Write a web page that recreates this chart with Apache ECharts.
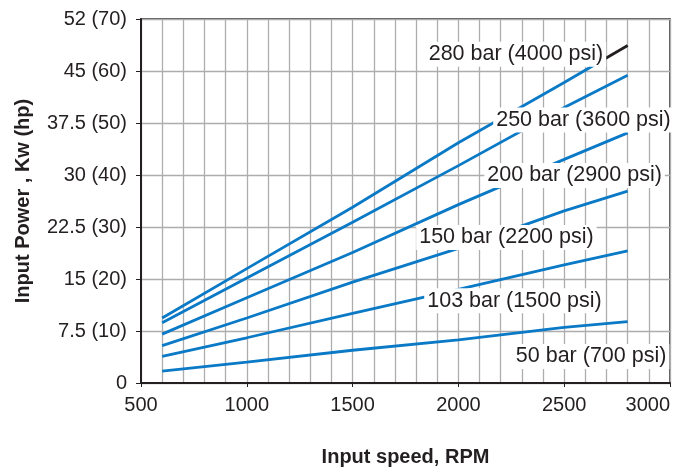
<!DOCTYPE html>
<html>
<head>
<meta charset="utf-8">
<script src="https://cdn.jsdelivr.net/npm/echarts@6/dist/echarts.min.js"></script>
<style>
html,body{margin:0;padding:0;background:#fff;}
#chart{width:676px;height:472px;}
</style>
</head>
<body>
<div id="chart"></div>
<script>
// Input speed (RPM) sample points
const rpm = [600, 1000, 1500, 2000, 2500, 2800];
// Input power in hp for each pressure curve
const p280 = [12.5, 22.0, 33.8, 46.2, 57.8, 64.9];
const p250 = [11.6, 20.2, 30.9, 41.8, 53.0, 59.2];
const p200 = [9.4, 16.4, 25.1, 34.3, 43.0, 48.1];
const p150 = [7.2, 12.5, 19.4, 25.9, 33.1, 36.9];
const p103 = [5.1, 8.7, 13.4, 18.0, 22.7, 25.4];
const p50  = [2.3, 4.0, 6.3, 8.3, 10.7, 11.8];
const curveNames = ['280 bar (4000 psi)', '250 bar (3600 psi)', '200 bar (2900 psi)',
                    '150 bar (2200 psi)', '103 bar (1500 psi)', '50 bar (700 psi)'];
// Y tick labels: kW (hp)
const yTickLabels = ['0', '7.5 (10)', '15 (20)', '22.5 (30)', '30 (40)', '37.5 (50)', '45 (60)', '52 (70)'];
const xTickLabels = ['500', '1000', '1500', '2000', '2500', '3000'];

// label anchor positions (RPM, hp) - layout only
const labelPos = [[2272, 63.2], [2591, 50.6], [2549, 39.9], [2227, 28.0], [2265, 15.8], [2627, 5.1]];

const BLUE = '#0a79c6';
const INK = '#231f20';
const GRID = '#adadad';
const FONT = '"Liberation Sans", Arial, Helvetica, sans-serif';

// top curve turns black past this speed (where it crosses its label)
const blackFrom = 2660;
const f = (blackFrom - rpm[0]) / (rpm[rpm.length - 1] - rpm[0]);
const topGradient = {
  type: 'linear', x: 0, y: 0, x2: 1, y2: 0,
  colorStops: [
    { offset: 0, color: BLUE }, { offset: f, color: BLUE },
    { offset: f, color: INK }, { offset: 1, color: INK }
  ]
};

const allValues = [p280, p250, p200, p150, p103, p50];
const lineSeries = allValues.map((vals, i) => ({
  type: 'line',
  name: curveNames[i],
  data: rpm.map((r, k) => [r, vals[k]]),
  showSymbol: false,
  symbol: 'none',
  smooth: false,
  lineStyle: { width: 2.8, color: i === 0 ? topGradient : BLUE },
  itemStyle: { color: BLUE },
  z: 2,
  silent: true
}));

const labelSeries = {
  type: 'scatter',
  symbol: 'circle',
  symbolSize: 1,
  itemStyle: { color: 'rgba(0,0,0,0)', opacity: 1 },
  silent: true,
  z: 5,
  data: labelPos.map((p, i) => ({ value: p, name: curveNames[i] })),
  label: {
    show: true,
    position: 'inside',
    formatter: p => p.name,
    fontFamily: FONT,
    fontSize: 21.5,
    color: INK,
    opacity: 1,
    backgroundColor: '#ffffff',
    padding: [2, 3, 1, 3]
  }
};

const chart = echarts.init(document.getElementById('chart'), null, { renderer: 'canvas' });
chart.setOption({
  animation: false,
  backgroundColor: '#ffffff',
  textStyle: { fontFamily: FONT },
  grid: {
    left: 141, right: 6, top: 19, bottom: 84,
    show: true, borderColor: INK, borderWidth: 1.5
  },
  xAxis: {
    type: 'value',
    min: 500, max: 3000, interval: 500,
    name: 'Input speed, RPM',
    nameLocation: 'middle',
    nameGap: 64,
    nameTextStyle: { fontFamily: FONT, fontSize: 20, fontWeight: 'bold', color: INK },
    axisLine: { show: true, onZero: false, lineStyle: { color: INK, width: 2 } },
    axisTick: { show: true, inside: false, length: 4, lineStyle: { color: INK, width: 1 } },
    minorTick: { show: false, splitNumber: 5 },
    axisLabel: {
      fontFamily: FONT, fontSize: 20, color: INK, margin: 12,
      alignMaxLabel: 'right',
      formatter: v => xTickLabels[Math.round((v - 500) / 500)]
    },
    splitLine: { show: true, lineStyle: { color: GRID, width: 1.3 } },
    minorSplitLine: { show: true, lineStyle: { color: GRID, width: 1.3 } }
  },
  yAxis: {
    type: 'value',
    min: 0, max: 70, interval: 10,
    name: 'Input Power , Kw (hp)',
    nameLocation: 'middle',
    nameGap: 108,
    nameRotate: 90,
    nameTextStyle: { fontFamily: FONT, fontSize: 20, fontWeight: 'bold', color: INK },
    axisLine: { show: true, onZero: false, lineStyle: { color: INK, width: 2 } },
    axisTick: { show: true, inside: false, length: 5, lineStyle: { color: INK, width: 1 } },
    axisLabel: {
      fontFamily: FONT, fontSize: 20, color: INK, margin: 14,
      formatter: v => yTickLabels[Math.round(v / 10)]
    },
    splitLine: { show: true, lineStyle: { color: GRID, width: 1.3 } }
  },
  series: lineSeries.concat([labelSeries])
});
</script>
</body>
</html>
